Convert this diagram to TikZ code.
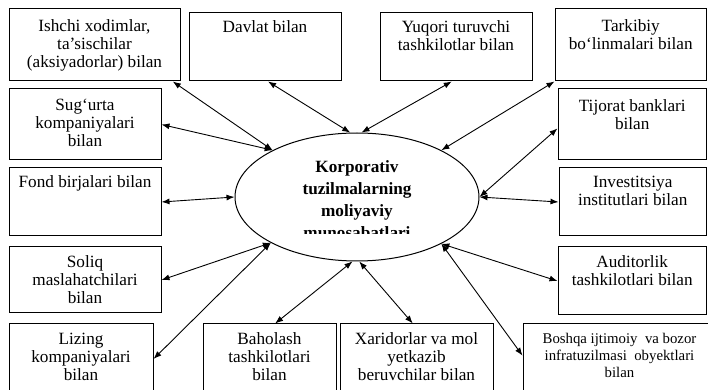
\documentclass[tikz,border=0pt]{standalone}
\usepackage{fontspec}
\setmainfont{Liberation Serif}
\usetikzlibrary{positioning,fit,shapes.geometric,arrows.meta}

\begin{document}
\begin{tikzpicture}[
    x=0.5pt, y=-0.5pt,
    box/.style={rectangle, draw, inner sep=0pt, line width=0.5pt},
    txt/.style={inner sep=0pt, align=center, font=\fontsize{8.6}{9}\selectfont},
    small/.style={inner sep=0pt, align=center, font=\fontsize{7.4}{8.5}\selectfont},
    centre/.style={ellipse, draw, line width=0.5pt, minimum width=122pt, minimum height=64pt, inner sep=0pt},
    bold/.style={inner sep=0pt, align=center, font=\fontsize{8.6}{11}\selectfont\bfseries},
    arrow/.style={<->, >={Latex[length=4pt,width=3pt]}, line width=0.45pt}
]
    \clip (0,0) rectangle (708,390);

    % Centre
    \node [centre] (kt) at (357,197) {};
    \begin{scope}
        \clip (230,130) rectangle (485,234);
        \node [bold, below=14pt of kt.north] (kt-t) {Korporativ\\tuzilmalarning\\moliyaviy\\munosabatlari};
    \end{scope}

    % Top row
    \node [box, fit={(9,9) (180,81)}] (ishchi) {};
    \node [txt, below=5.5pt of ishchi.north] {Ishchi xodimlar,\\ta’sischilar\\(aksiyadorlar) bilan};
    \node [box, fit={(189,13) (341,81)}] (davlat) {};
    \node [txt, below=4pt of davlat.north] {Davlat bilan};
    \node [box, fit={(380,13) (532,81)}] (yuqori) {};
    \node [txt, below=4pt of yuqori.north] {Yuqori turuvchi\\tashkilotlar bilan};
    \node [box, fit={(555,9) (706.5,81)}] (tarkibiy) {};
    \node [txt, below=5.5pt of tarkibiy.north] {Tarkibiy\\bo‘linmalari bilan};

    % Left column
    \node [box, fit={(9,89) (161,160)}] (sugurta) {};
    \node [txt, below=5pt of sugurta.north] {Sug‘urta\\kompaniyalari\\bilan};
    \node [box, fit={(9,168) (161,236)}] (fond) {};
    \node [txt, below=4pt of fond.north] {Fond birjalari bilan};
    \node [box, fit={(9,247) (161,313)}] (soliq) {};
    \node [txt, below=4.5pt of soliq.north] {Soliq\\maslahatchilari\\bilan};

    % Right column
    \node [box, fit={(558,89) (706.5,160)}] (tijorat) {};
    \node [txt, below=5.5pt of tijorat.north] {Tijorat banklari\\bilan};
    \node [box, fit={(559,168) (706.5,236)}] (invest) {};
    \node [txt, below=4pt of invest.north] {Investitsiya\\institutlari bilan};
    \node [box, fit={(558,247) (706.5,315)}] (audit) {};
    \node [txt, below=4.5pt of audit.north] {Auditorlik\\tashkilotlari bilan};

    % Bottom row
    \node [box, fit={(9,324) (153,394)}] (lizing) {};
    \node [txt, below=4.5pt of lizing.north] {Lizing\\kompaniyalari\\bilan};
    \node [box, fit={(203,324) (336,394)}] (baholash) {};
    \node [txt, below=4.5pt of baholash.north] {Baholash\\tashkilotlari\\bilan};
    \node [box, fit={(340,324) (493,394)}] (xaridor) {};
    \node [txt, below=4.5pt of xaridor.north] {Xaridorlar va mol\\yetkazib\\beruvchilar bilan};
    \node [box, fit={(523,324) (716,394)}] (boshqa) {};
    \node [small, below=4.5pt of boshqa.north] {Boshqa ijtimoiy\ \ va bozor\\infratuzilmasi\ \ obyektlari\\bilan};

    % Arrows
    \draw [arrow] (ishchi.-25.5) -- (kt.151);
    \draw [arrow] (sugurta.east) -- (kt.151);
    \draw [arrow] (davlat.-85) -- (kt.96);
    \draw [arrow] (yuqori.-97) -- (kt.86.5);
    \draw [arrow] (tarkibiy.south west) -- (kt.29);
    \draw [arrow] (tijorat.183) -- (kt.0);
    \draw [arrow] (invest.west) -- (kt.0);
    \draw [arrow] (fond.east) -- (kt.180);
    \draw [arrow] (soliq.east) -- (kt.208.6);
    \draw [arrow] (lizing.east) -- (kt.208.6);
    \draw [arrow] (baholash.81) -- (kt.266);
    \draw [arrow] (xaridor.96) -- (kt.272.5);
    \draw [arrow] (audit.west) -- (kt.331);
    \draw [arrow] (boshqa.178) -- (kt.331);
\end{tikzpicture}
\end{document}
